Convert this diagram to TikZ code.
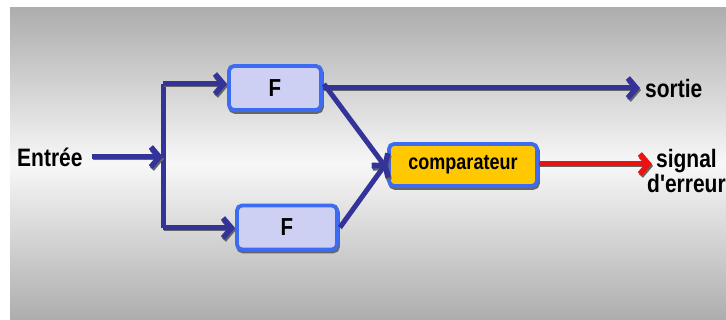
\documentclass[tikz,border=0pt]{standalone}
\usepackage{fontspec}
\setmainfont{Liberation Sans}
\usetikzlibrary{arrows.meta}
\definecolor{navy}{HTML}{343399}
\definecolor{bord}{HTML}{3D6CF2}
\definecolor{ffill}{HTML}{CDD0F2}
\definecolor{cfill}{HTML}{FFC800}
\definecolor{redarr}{HTML}{EE1111}
\definecolor{bggray}{HTML}{ADADAD}
\newcommand{\tallt}[1]{\scalebox{1}[1.2]{#1}}
\begin{document}
\begin{tikzpicture}[x=1pt,y=-1pt,
  lbl/.style={font=\fontsize{21}{25}\selectfont\bfseries, inner sep=0pt},
  fbox/.style={draw=bord, line width=3.8pt, fill=ffill, rounded corners=5pt,
    font=\fontsize{20.5}{23}\selectfont\bfseries, inner sep=0pt,
    preaction={draw=black!60, fill=black!60, transform canvas={shift={(1pt,-2pt)}}}},
  conn/.style={line width=5pt, draw=navy,
    -{Straight Barb[length=8.5pt,width=20pt,line width=5.5pt]},
    preaction={draw=black!60, transform canvas={shift={(1pt,-2pt)}}}},
  plain/.style={line width=5pt, draw=navy,
    preaction={draw=black!60, transform canvas={shift={(1pt,-2pt)}}}},
]
\useasboundingbox (0,0) rectangle (726,320);
\fill[white] (0,0) rectangle (726,320);
\shade[top color=bggray, bottom color=bggray, middle color=white!97!black] (10,8) rectangle (726,320);

\node[fbox, minimum width=92pt, minimum height=44pt] (f1) at (275,88) {\tallt{F}};
\node[fbox, minimum width=100pt, minimum height=44pt] (f2) at (287,227.5) {\tallt{F}};
\node[fbox, fill=cfill, minimum width=148pt, minimum height=42pt,
  font=\fontsize{18}{20}\selectfont\bfseries] (cmp) at (463,165) {\tallt{comparateur}};

\node[lbl, anchor=west] (in) at (17,157) {\tallt{Entrée}};
\node[lbl, anchor=west] (out) at (645,88) {\tallt{sortie}};
\node[lbl, anchor=west, align=center] (err) at (647,171) {\tallt{signal}\\\tallt{d\textquotesingle erreur}};

\coordinate (j) at (163,157);
\coordinate (jt) at (163,84);
\coordinate (jb) at (163,228);
\coordinate (ins) at (92,157);
\coordinate (outs) at (640,88);
\coordinate (errs) at (652,164);

\draw[plain] (jt) -- (jb);
\draw[conn] (ins) -- (j);
\draw[conn] (jt) -- (jt -| f1.west);
\draw[conn] (jb) -- (jb -| f2.west);
\draw[conn] (f1.east |- outs) -- (outs);
\draw[conn] ([xshift=1pt,yshift=4pt]f1.east) -- ([yshift=-4pt]cmp.west);
\draw[conn] ([xshift=1pt]f2.east) -- ([yshift=3pt]cmp.west);
\draw[conn, draw=redarr] (cmp.east |- errs) -- (errs);
\end{tikzpicture}
\end{document}
